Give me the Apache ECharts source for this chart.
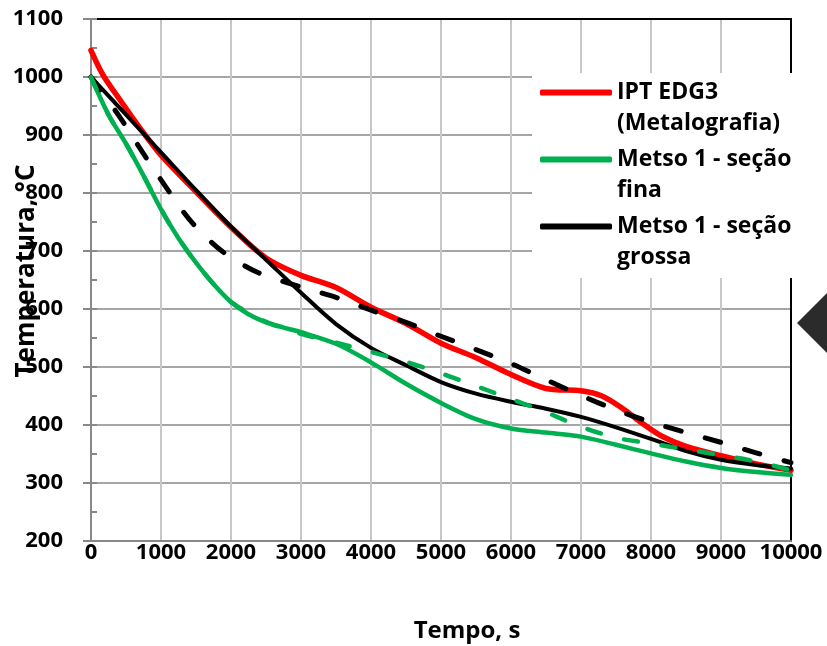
<!DOCTYPE html>
<html><head><meta charset="utf-8">
<script src="https://cdn.jsdelivr.net/npm/echarts@6/dist/echarts.min.js"></script>
<style>html,body{margin:0;padding:0;background:#fff}#c{width:827px;height:646px}</style>
</head><body><div id="c"></div>
<script>
// Axis ticks
const xTicks = [0,1000,2000,3000,4000,5000,6000,7000,8000,9000,10000];
const yTicks = [200,300,400,500,600,700,800,900,1000,1100];

// IPT EDG3 (Metalografia) - red solid
const redTime = [0,100,200,400,700,1000,1500,2000,2500,3000,3500,4000,4500,5000,5500,6000,6500,7000,7300,7600,7850,8150,8500,9000,9500,10000];
const redTemp = [1046,1020,998,963,912,865,802,741,688,658,637,603,575,541,516,487,463,459,450,428,405,381,363,347,333,322];

// Metso 1 - seção fina - green solid
const greenTime = [0,250,500,750,1000,1250,1500,1750,2000,2250,2500,2750,3000,3500,4000,4500,5000,5500,6000,6500,7000,7500,8000,8500,9000,9500,10000];
const greenTemp = [1000,935,885,830,772,722,680,643,612,591,577,568,560,540,508,471,438,410,394,387,380,366,351,337,326,319,314];

// Metso 1 - seção grossa - black solid
const blackTime = [0,500,1000,1500,2000,2500,3000,3500,4000,4500,5000,5500,6000,6500,7000,7500,8000,8500,9000,9500,10000];
const blackTemp = [1000,935,870,805,742,685,628,574,533,503,474,454,440,428,414,396,376,355,340,331,325];

// black dashed
const blackDashTime = [0,400,650,1100,1450,1900,2400,3000,3500,4000,4500,5000,5500,6000,6500,7000,7500,8000,8500,9000,9500,10000];
const blackDashTemp = [1000,933,886,805,748,697,662,638,620,598,577,553,530,506,478,451,426,405,387,370,352,335];

// green dashed
const greenDashTime = [0,250,500,750,1000,1250,1500,1750,2000,2500,3000,3500,4000,4500,5000,5500,6000,6500,7000,7500,8000,8500,9000,9500,10000];
const greenDashTemp = [1000,935,885,830,772,722,680,643,612,578,557,542,526,509,489,467,445,422,397,378,368,358,348,337,322];

const seriesNames = ['IPT EDG3\n(Metalografia)','Metso 1 - seção\nfina','Metso 1 - seção\ngrossa'];

const zip = (a,b) => a.map((v,i)=>[v,b[i]]);
const FONT = 'Open Sans';

const chart = echarts.init(document.getElementById('c'), null, {renderer:'canvas'});
const lineSeries = (name, data, color, width, dash) => ({
  type:'line', name, data, showSymbol:false, symbol:'none', smooth:0.3,
  lineStyle:{color, width, type: dash || 'solid', cap:'round', join:'round'},
  itemStyle:{color}, animation:false, z: dash ? 4 : 3
});

chart.setOption({
  animation:false,
  backgroundColor:'#fff',
  grid:{left:91, right:36, top:19, bottom:105, containLabel:false, outerBoundsMode:'none'},
  xAxis:[{
    type:'value', min:xTicks[0], max:xTicks[xTicks.length-1], interval:1000,
    axisLine:{show:true, lineStyle:{color:'#888', width:2}},
    axisTick:{show:false},
    splitLine:{show:true, lineStyle:{color:'#c8c8c8', width:2}},
    axisLabel:{color:'#000', fontFamily:FONT, fontWeight:'bold', fontSize:22, margin:1, formatter:v=>String(v)},
    name:'Tempo, s', nameLocation:'middle', nameGap:78, nameMoveOverlap:false,
    nameTextStyle:{color:'#000', fontFamily:FONT, fontWeight:'bold', fontSize:24, padding:[0,0,0,52]}
  },{
    type:'value', position:'top', min:0, max:10000, interval:1000,
    axisLine:{show:true, lineStyle:{color:'#000', width:2}},
    axisTick:{show:false}, axisLabel:{show:false}, splitLine:{show:false}
  }],
  yAxis:[{
    type:'value', min:yTicks[0], max:yTicks[yTicks.length-1], interval:100,
    axisLine:{show:true, lineStyle:{color:'#888', width:2}},
    axisTick:{show:true, inside:false, length:8, lineStyle:{color:'#888', width:2}},
    splitLine:{show:true, lineStyle:{color:'#a6a6a6', width:2}},
    axisLabel:{color:'#000', fontFamily:FONT, fontWeight:'bold', fontSize:22, margin:28, formatter:v=>String(v)},
    name:'Temperatura, °C', nameLocation:'middle', nameGap:51, nameRotate:90, nameMoveOverlap:false,
    nameTextStyle:{color:'#000', fontFamily:FONT, fontWeight:'bold', fontSize:26, padding:[0,0,0,18]}
  },{
    type:'value', position:'left', min:200, max:1100, interval:50,
    axisLine:{show:false},
    axisTick:{show:true, inside:true, length:6, lineStyle:{color:'#888', width:2}},
    axisLabel:{show:false}, splitLine:{show:false}
  },{
    type:'value', position:'right', min:200, max:1100, interval:100,
    axisLine:{show:true, lineStyle:{color:'#000', width:2}},
    axisTick:{show:false}, axisLabel:{show:false}, splitLine:{show:false}
  }],
  legend:{
    data: seriesNames, orient:'vertical', left:540, top:46, padding:0,
    itemWidth:72, itemHeight:6, icon:'roundRect', itemGap:-26, z:20,
    formatter: name => '\n' + name,
    textStyle:{color:'#000', fontFamily:FONT, fontWeight:'bold', fontSize:23, lineHeight:31}
  },
  graphic:[
    {type:'rect', shape:{x:532, y:73, width:268, height:205}, style:{fill:'#fff'}, z:10, silent:true},
    {type:'polygon', shape:{points:[[797,323],[827,293],[827,353]]}, style:{fill:'#2b2b2b'}, z:10, silent:true}
  ],
  series:[
    lineSeries(seriesNames[0], zip(redTime, redTemp), '#ff0000', 5.5),
    lineSeries(seriesNames[2], zip(blackTime, blackTemp), '#000000', 4),
    lineSeries(seriesNames[1], zip(greenTime, greenTemp), '#00b050', 4.5),
    lineSeries('Metso 1 - seção grossa (tracejada)', zip(blackDashTime, blackDashTemp), '#000000', 5, [16,25]),
    lineSeries('Metso 1 - seção fina (tracejada)', zip(greenDashTime, greenDashTemp), '#00b050', 4.5, [14,24])
  ]
});
</script></body></html>
